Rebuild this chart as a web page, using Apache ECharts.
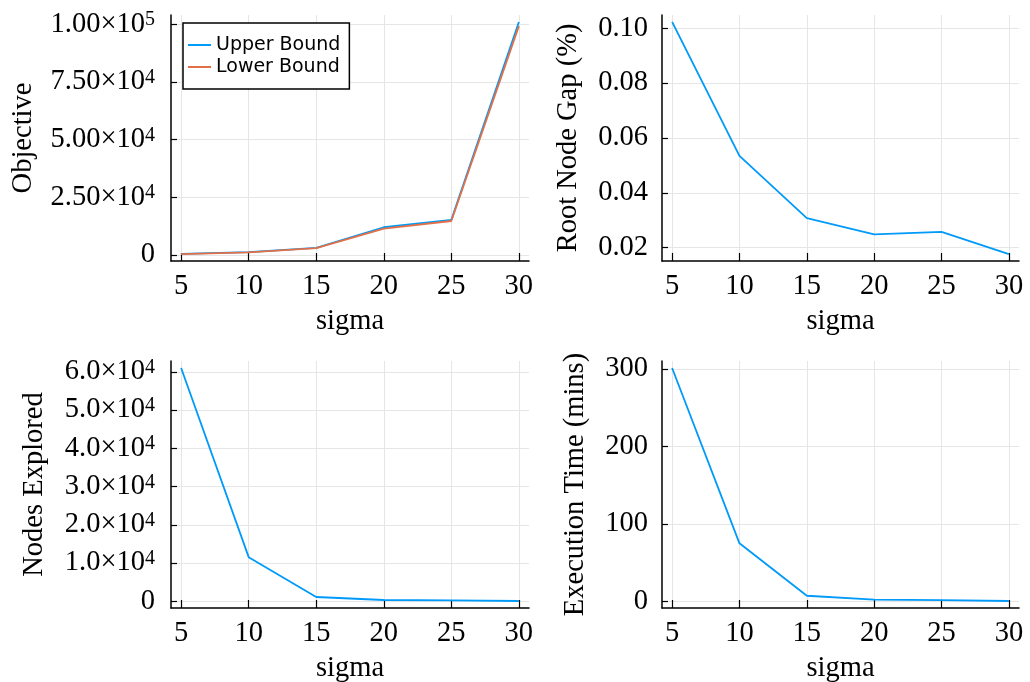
<!DOCTYPE html>
<html>
<head>
<meta charset="utf-8">
<script src="https://cdn.jsdelivr.net/npm/echarts@6/dist/echarts.min.js"></script>
<style>
html,body{margin:0;padding:0;background:#fff;}
#chart{width:1030px;height:682px;}
</style>
</head>
<body>
<div id="chart"></div>
<script>
// ---- data ----
const sigma = [5, 10, 15, 20, 25, 30];
const upperBound = [600, 1350, 3200, 12100, 15300, 101000];
const lowerBound = [500, 1250, 3100, 11500, 14800, 99200];
const rootGap = [0.1023, 0.0535, 0.0308, 0.0249, 0.0258, 0.0177];
const nodesExplored = [61050, 11560, 1140, 350, 260, 90];
const execTime = [301, 75.2, 7.7, 2.6, 2.1, 0.9];

const xTicks = [5, 10, 15, 20, 25, 30];
const objTicks = [0, 25000, 50000, 75000, 100000];
const objTickLabels = ['0', '2.50×10^4', '5.00×10^4', '7.50×10^4', '1.00×10^5'];
const gapTicks = [0.02, 0.04, 0.06, 0.08, 0.10];
const gapTickLabels = ['0.02', '0.04', '0.06', '0.08', '0.10'];
const nodeTicks = [0, 10000, 20000, 30000, 40000, 50000, 60000];
const nodeTickLabels = ['0', '1.0×10^4', '2.0×10^4', '3.0×10^4', '4.0×10^4', '5.0×10^4', '6.0×10^4'];
const timeTicks = [0, 100, 200, 300];
const timeTickLabels = ['0', '100', '200', '300'];

const BLUE = '#009AF9';
const ORANGE = '#E36F47';
const SERIF = "'Liberation Serif','Times New Roman',serif";
const FS = 28.5;

function padRange(arrs) {
  let lo = Infinity, hi = -Infinity;
  arrs.forEach(a => a.forEach(v => { lo = Math.min(lo, v); hi = Math.max(hi, v); }));
  const d = (hi - lo) * 0.03;
  return [lo - d, hi + d];
}
const xr = [sigma[0] - (sigma[5] - sigma[0]) * 0.03, sigma[5] + (sigma[5] - sigma[0]) * 0.03];

function labelFormatter(ticks, labels) {
  return function (v) {
    let i = -1;
    for (let k = 0; k < ticks.length; k++) if (Math.abs(ticks[k] - v) < 1e-9 * Math.max(1, Math.abs(v))) i = k;
    if (i < 0) return '';
    const s = labels[i];
    if (s.indexOf('^') >= 0) {
      const p = s.split('^');
      return '{b|' + p[0] + '}{s|' + p[1] + '}';
    }
    return '{b|' + s + '}';
  };
}
const rich = {
  b: { fontFamily: SERIF, fontSize: FS, color: '#000', lineHeight: FS, padding: [8, 0, 0, 0], verticalAlign: 'bottom' },
  s: { fontFamily: SERIF, fontSize: 20, color: '#000', lineHeight: 20, verticalAlign: 'top' }
};

const grids = [
  { left: 171, top: 15, width: 358, height: 246 },
  { left: 662, top: 15, width: 357, height: 246 },
  { left: 171, top: 361, width: 358, height: 247 },
  { left: 662, top: 361, width: 357, height: 247 }
].map(g => Object.assign({ containLabel: false, outerBoundsMode: 'none' }, g));

function xAxis(gi) {
  return {
    type: 'value', gridIndex: gi, min: xr[0], max: xr[1],
    name: 'sigma', nameLocation: 'middle', nameGap: 46,
    nameTextStyle: { fontFamily: SERIF, fontSize: FS, color: '#000' },
    axisLine: { show: true, onZero: false, lineStyle: { color: '#000', width: 1.5 } },
    axisTick: { show: true, inside: true, length: 8, customValues: xTicks, lineStyle: { color: '#000', width: 1.2 } },
    axisLabel: { customValues: xTicks, margin: 11, fontFamily: SERIF, fontSize: FS, color: '#000', showMinLabel: true, showMaxLabel: true },
    splitLine: { show: true, lineStyle: { color: '#e6e6e6', width: 1 } }
  };
}
function yAxis(gi, range, ticks, labels, name, gap, margin) {
  return {
    type: 'value', gridIndex: gi, min: range[0], max: range[1],
    name: name, nameLocation: 'middle', nameGap: gap,
    nameTextStyle: { fontFamily: SERIF, fontSize: FS, color: '#000' },
    axisLine: { show: true, onZero: false, lineStyle: { color: '#000', width: 1.5 } },
    axisTick: { show: true, inside: true, length: 6, customValues: ticks, lineStyle: { color: '#000', width: 1.2 } },
    axisLabel: { customValues: ticks, margin: margin, formatter: labelFormatter(ticks, labels), rich: rich },
    splitLine: { show: true, lineStyle: { color: '#e6e6e6', width: 1 } }
  };
}

function pairs(ys) { return sigma.map((x, i) => [x, ys[i]]); }
function line(name, gi, ys, color) {
  return {
    name: name, type: 'line', xAxisIndex: gi, yAxisIndex: gi, data: pairs(ys),
    showSymbol: false, symbol: 'none', animation: false,
    lineStyle: { color: color, width: 1.8 }, itemStyle: { color: color }
  };
}

const option = {
  backgroundColor: '#fff',
  animation: false,
  grid: grids,
  xAxis: [xAxis(0), xAxis(1), xAxis(2), xAxis(3)],
  yAxis: [
    yAxis(0, padRange([upperBound, lowerBound]), objTicks, objTickLabels, 'Objective', 133, 16),
    yAxis(1, padRange([rootGap]), gapTicks, gapTickLabels, 'Root Node Gap (%)', 79, 14),
    yAxis(2, padRange([nodesExplored]), nodeTicks, nodeTickLabels, 'Nodes Explored', 122, 16),
    yAxis(3, padRange([execTime]), timeTicks, timeTickLabels, 'Execution Time (mins)', 72, 14)
  ],
  legend: {
    show: true, data: ['Upper Bound', 'Lower Bound'], orient: 'vertical',
    left: 183, top: 23, icon: 'rect', itemWidth: 23, itemHeight: 2, itemGap: 0,
    padding: [11, 9, 11, 5], backgroundColor: '#fff', borderColor: '#000', borderWidth: 1.5, borderRadius: 0,
    textStyle: { fontFamily: "'DejaVu Sans',sans-serif", fontSize: 19, color: '#000', lineHeight: 22 }
  },
  series: [
    line('Upper Bound', 0, upperBound, BLUE),
    line('Lower Bound', 0, lowerBound, ORANGE),
    line('gap', 1, rootGap, BLUE),
    line('nodes', 2, nodesExplored, BLUE),
    line('time', 3, execTime, BLUE)
  ]
};
const chart = echarts.init(document.getElementById('chart'), null, { renderer: 'canvas' });
chart.setOption(option);
</script>
</body>
</html>
